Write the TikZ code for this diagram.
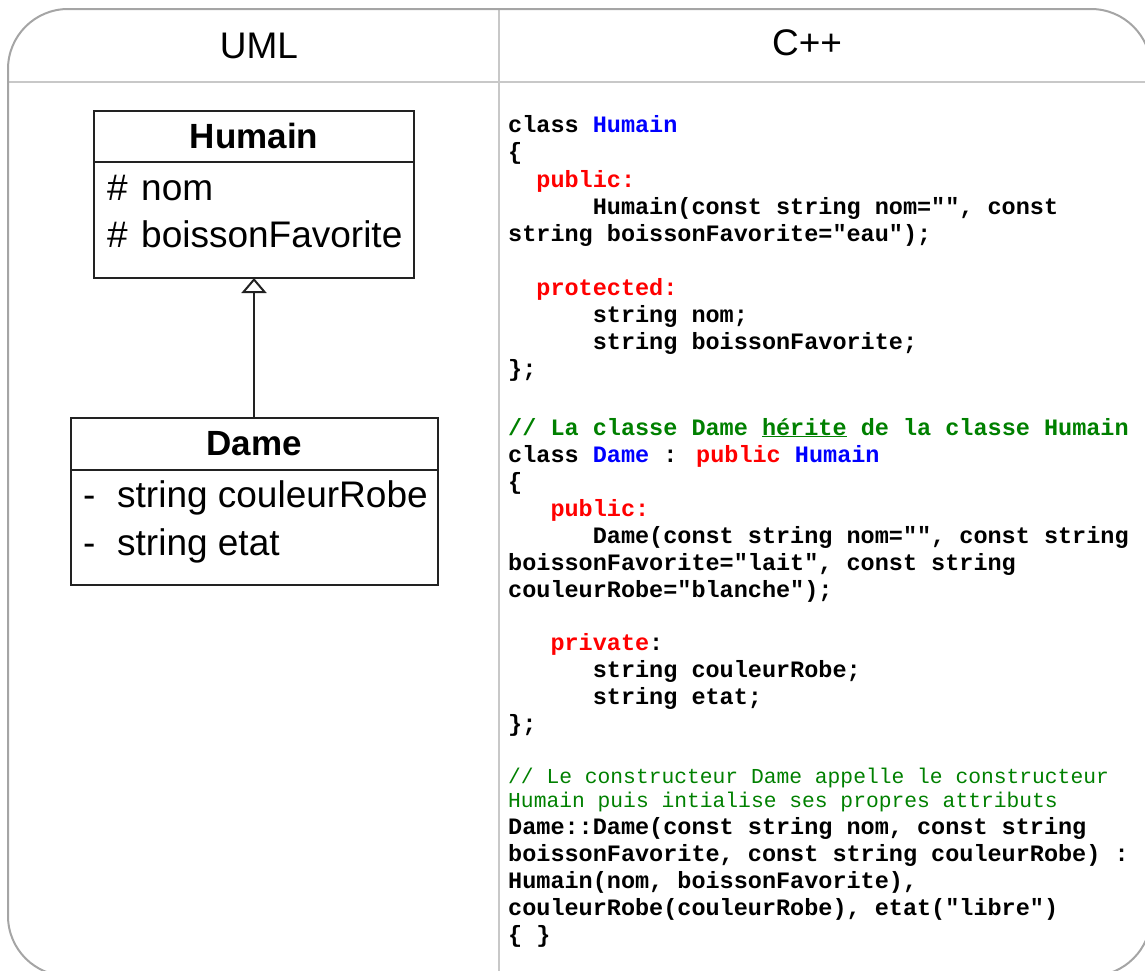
\documentclass[tikz,border=0pt]{standalone}
\usepackage{fontspec}
\setmainfont{Liberation Sans}
\newfontfamily\codefont{Liberation Mono}
\usetikzlibrary{arrows.meta}
\definecolor{kwred}{RGB}{255,0,0}
\definecolor{typeblue}{RGB}{0,0,255}
\definecolor{cmtgreen}{RGB}{0,128,0}
\definecolor{framegray}{RGB}{165,165,165}
\definecolor{rulegray}{RGB}{200,200,200}
\definecolor{umlink}{RGB}{34,34,34}
\begin{document}
\begin{tikzpicture}[x=1pt,y=-1pt,
  frame/.style={draw=framegray, line width=2pt},
  rule/.style={draw=rulegray, line width=2pt},
  umlbox/.style={draw=umlink, line width=2pt, inner sep=0pt, outer sep=0pt, rectangle},
  umlrule/.style={draw=umlink, line width=2pt},
  hdr/.style={anchor=base, inner sep=0pt, font=\fontsize{37}{37}\selectfont},
  umltitle/.style={anchor=base, inner sep=0pt, font=\fontsize{35}{35}\selectfont\bfseries},
  umlattr/.style={anchor=base west, inner sep=0pt, font=\fontsize{37}{37}\selectfont},
  code/.style={anchor=base west, inner sep=0pt, font=\codefont\fontsize{23.5}{23.5}\selectfont\bfseries},
  note/.style={anchor=base west, inner sep=0pt, text=cmtgreen, font=\codefont\fontsize{21.3}{21.3}\selectfont},
  inherit/.style={draw=umlink, line width=2pt, -{Triangle[open, length=15pt, width=25pt]}}
]
\clip (0,0) rectangle (1145,970);

% table frame: header rule, column rule, rounded outline
\draw[rule] (8,82) -- (1151,82);
\draw[rule] (499,9) -- (499,976);
\draw[frame, rounded corners=60pt] (8,9) rectangle (1151,976);

% column headers
\node[hdr] (uml) at (259,58) {UML};
\node[hdr] (cpp) at (807,55) {C++};

% UML class Humain
\node[umlbox, minimum width=320pt, minimum height=167pt] (humain) at (254,194.5) {};
\draw[umlrule] ([yshift=-51pt]humain.north west) -- ([yshift=-51pt]humain.north east);
\node[umltitle] (humainName) at (254,148) {Humain};
\node[umlattr] (hashNom) at (107,200) {\#};
\node[umlattr] (attrNom) at (141,200) {nom};
\node[umlattr] (hashBoisson) at (107,247) {\#};
\node[umlattr] (attrBoisson) at (141,247) {boissonFavorite};

% UML class Dame
\node[umlbox, minimum width=367pt, minimum height=167pt] (dame) at (254,501.5) {};
\draw[umlrule] ([yshift=-52pt]dame.north west) -- ([yshift=-52pt]dame.north east);
\node[umltitle] (dameName) at (254,455) {Dame};
\node[umlattr] (dashRobe) at (83,507) {-};
\node[umlattr] (attrRobe) at (117,507) {string couleurRobe};
\node[umlattr] (dashEtat) at (83,555) {-};
\node[umlattr] (attrEtat) at (117,555) {string etat};

% generalisation Dame -> Humain
\draw[inherit] (dame.north) -- (humain.south);

% C++ listing
\node[code] (l01) at (508,132) {class \textcolor{typeblue}{Humain}};
\node[code] (l02) at (508,159) {\{};
\node[code, text=kwred] (l03) at (536.2,187) {public:};
\node[code] (l04) at (592.6,214) {Humain(const string nom="", const};
\node[code] (l05) at (508,241) {string boissonFavorite="eau");};
\node[code, text=kwred] (l06) at (536.2,295) {protected:};
\node[code] (l07) at (592.6,322) {string nom;};
\node[code] (l08) at (592.6,349) {string boissonFavorite;};
\node[code] (l09) at (508,376) {\};};
\node[code, text=cmtgreen] (l10) at (508,435) {// La classe Dame \underline{hérite} de la classe Humain};
\node[code] (l11) at (508,462) {class \textcolor{typeblue}{Dame} : \textcolor{kwred}{public} \textcolor{typeblue}{Humain}};
\node[code] (l12) at (508,489) {\{};
\node[code, text=kwred] (l13) at (550.3,516) {public:};
\node[code] (l14) at (592.6,543) {Dame(const string nom="", const string};
\node[code] (l15) at (508,570) {boissonFavorite="lait", const string};
\node[code] (l16) at (508,597) {couleurRobe="blanche");};
\node[code] (l17) at (550.3,650) {\textcolor{kwred}{private}:};
\node[code] (l18) at (592.6,677) {string couleurRobe;};
\node[code] (l19) at (592.6,704) {string etat;};
\node[code] (l20) at (508,731) {\};};
\node[note] (l21) at (508,783) {// Le constructeur Dame appelle le constructeur};
\node[note] (l22) at (508,807) {Humain puis intialise ses propres attributs};
\node[code] (l23) at (508,834) {Dame::Dame(const string nom, const string};
\node[code] (l24) at (508,861) {boissonFavorite, const string couleurRobe) :};
\node[code] (l25) at (508,888) {Humain(nom, boissonFavorite),};
\node[code] (l26) at (508,915) {couleurRobe(couleurRobe), etat("libre")};
\node[code] (l27) at (508,942) {\{ \}};
\end{tikzpicture}
\end{document}
